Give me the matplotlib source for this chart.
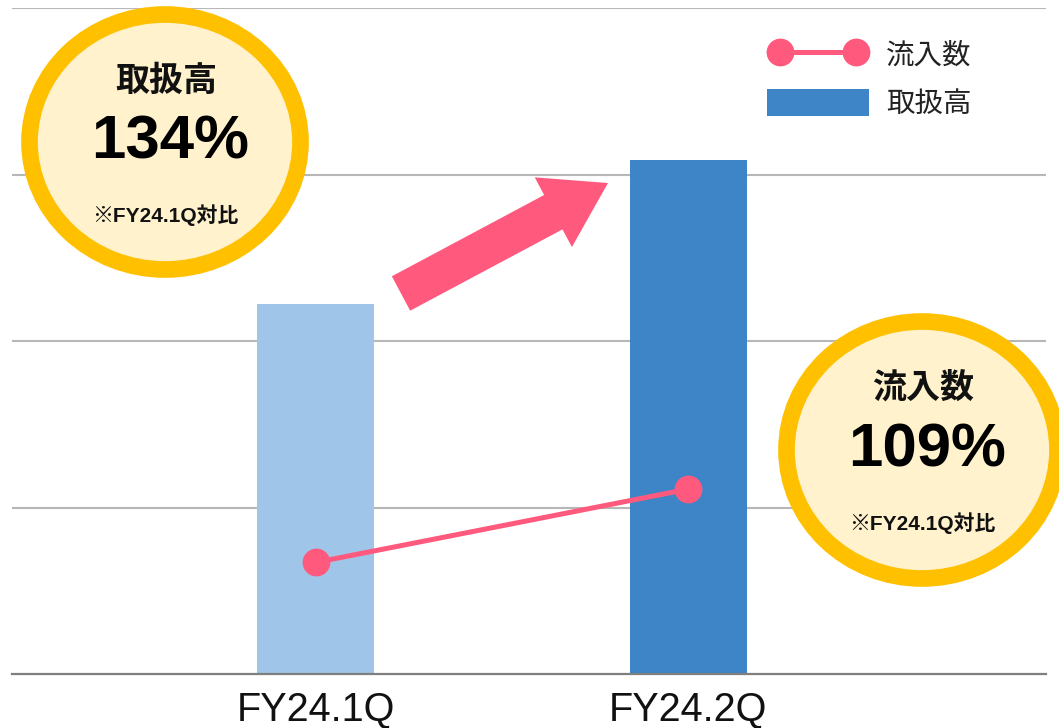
import matplotlib
matplotlib.use("Agg")
import matplotlib.pyplot as plt
from matplotlib.patches import Ellipse, FancyArrow, Patch
from matplotlib.lines import Line2D
from matplotlib.legend_handler import HandlerLine2D
from matplotlib.transforms import Affine2D

# data (y in gridline units)
quarters = ["FY24.1Q", "FY24.2Q"]
volume = [2.22, 3.09]       # 取扱高 (bars)
inflow = [0.67, 1.11]       # 流入数 (line)
bar_colors = ["#9fc5e8", "#3d85c6"]
badges = [("取扱高", "134%"), ("流入数", "109%")]
badge_note = "※FY24.1Q対比"

W, H = 1059, 728
pink = "#ff5a7e"
ring = "#ffc000"
ring_fill = "#fff2cc"
latin_cjk = ["Liberation Sans", "Noto Sans CJK JP"]

fig = plt.figure(figsize=(W / 100, H / 100), dpi=100)
# pixel coordinates (origin top-left) for the decorations
px = Affine2D().scale(1 / W, -1 / H).translate(0, 1) + fig.transFigure

ax = fig.add_axes([12 / W, (H - 674) / H, (1046 - 12) / W, (674 - 8) / H])
x = list(range(len(quarters)))
ax.bar(x, volume, width=0.314, color=bar_colors, zorder=2)
ax.plot(x, inflow, color=pink, lw=3.6, marker="o", ms=19, zorder=3)

ax.set_xlim(-0.815, 1.961)
ax.set_ylim(0, 4)
ax.set_yticks([1, 2, 3, 4])
ax.yaxis.grid(True, color="#b7b7b7", lw=1.5, zorder=0)
ax.tick_params(axis="y", length=0, labelleft=False)
ax.set_xticks(x)
ax.set_xticklabels(quarters, fontsize=28.5, family="Liberation Sans", color="#111")
ax.tick_params(axis="x", length=0, pad=12)
for s in ["top", "left", "right"]:
    ax.spines[s].set_visible(False)
ax.spines["bottom"].set_color("#7f7f7f")
ax.spines["bottom"].set_linewidth(1.6)

line_handle = Line2D([0], [0], color=pink, lw=3.6, marker="o", ms=19)
handles = [line_handle, Patch(facecolor=bar_colors[1])]
leg = fig.legend(handles, ["流入数", "取扱高"], loc="upper left",
                 bbox_to_anchor=(741 / W, 1 - 15 / H), frameon=False,
                 numpoints=2, handlelength=3.6, handleheight=1.1,
                 handletextpad=0.6, labelspacing=0.62,
                 handler_map={line_handle: HandlerLine2D(marker_pad=0.47)},
                 prop={"family": "Noto Sans CJK JP", "size": 20.5})
for t in leg.get_texts():
    t.set_color("#222")

# big pink arrow between the bars
fig.add_artist(FancyArrow(401, 293.5, 207, -110.5, width=39, head_width=79,
                          head_length=62, length_includes_head=True,
                          color=pink, lw=0, transform=px))

# yellow badges
centers = [(165, 142, 271, 255), (922, 450, 271, 257)]
text_pos = [((166, 80), (170, 143), (165, 215)),
            ((923, 387), (927, 451), (922, 523))]
for (cx, cy, w, h), (title, pct), (p1, p2, p3) in zip(centers, badges, text_pos):
    fig.add_artist(Ellipse((cx, cy), w, h, facecolor=ring_fill, edgecolor=ring,
                           lw=12, transform=px, zorder=5))
    fig.text(*p1, title, transform=px, ha="center", va="center", fontsize=24.5,
             family="Noto Sans CJK JP", weight="bold", color="#111", zorder=6)
    fig.text(*p2, pct, transform=px, ha="center", va="center", fontsize=44.5,
             family="Liberation Sans", weight="bold", color="#000", zorder=6)
    fig.text(*p3, badge_note, transform=px, ha="center", va="center", fontsize=15,
             family=latin_cjk, weight="bold", color="#111", zorder=6)

fig.savefig("out.png", dpi=100)
